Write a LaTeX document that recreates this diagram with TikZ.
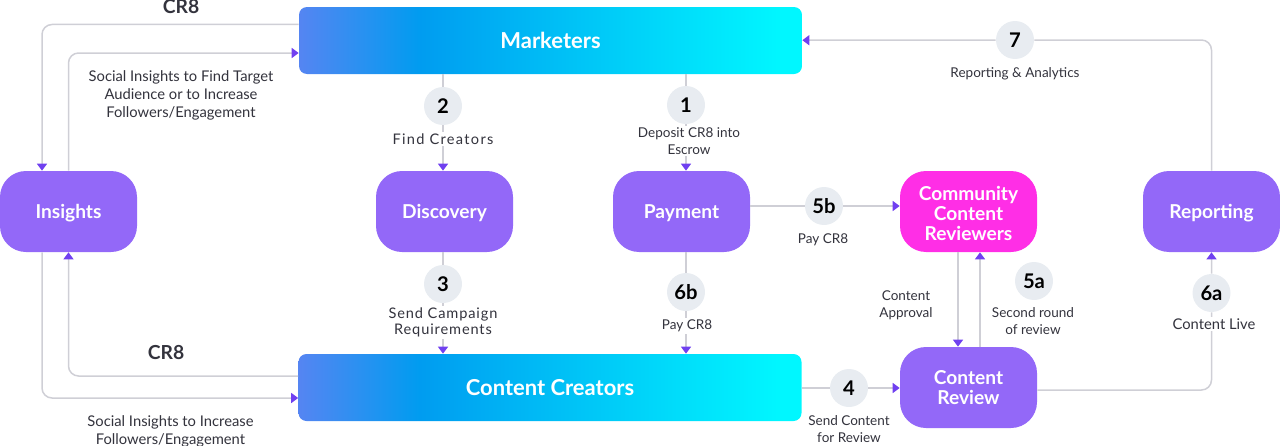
\documentclass[tikz,border=0pt]{standalone}
\usepackage{xcolor}
\usepackage{fontspec}
\setmainfont{Lato}
\newfontfamily\spacedfont[LetterSpace=6]{Lato}
\usepackage{tikz}
\usetikzlibrary{arrows.meta,positioning}

\definecolor{stagepurple}{HTML}{9368F8}
\definecolor{reviewpink}{HTML}{FF2EE6}
\definecolor{badgegray}{HTML}{E8ECF1}
\definecolor{linegray}{HTML}{CFCFD6}
\definecolor{tippurple}{HTML}{7040F0}
\definecolor{textdark}{HTML}{33333D}
\definecolor{gradblue}{HTML}{5585F2}
\definecolor{gradmid}{HTML}{009CF0}
\definecolor{gradcyan}{HTML}{00F7FF}
\pgfdeclarehorizontalshading{bandshade}{100bp}{color(0bp)=(gradblue); color(25bp)=(gradblue); color(37bp)=(gradmid); color(73bp)=(gradcyan); color(100bp)=(gradcyan)}

\begin{document}
\begin{tikzpicture}[node distance=2cm, auto]
    % Define styles
    \tikzstyle{stage} = [rectangle, rounded corners=0.52cm, minimum width=2.74cm, minimum height=1.62cm, align=center, text=white, fill=stagepurple, font=\fontsize{10.9}{11.2}\selectfont\bfseries]
    \tikzstyle{oneline} = [stage, text height=10.2pt, text depth=2pt]
    \tikzstyle{band} = [rectangle, rounded corners=0.16cm, minimum width=10.06cm, minimum height=1.34cm, text=white, shading=bandshade, font=\fontsize{12.5}{13}\selectfont\bfseries]
    \tikzstyle{badge} = [circle, minimum size=0.76cm, inner sep=0pt, fill=badgegray, text=black, font=\fontsize{11.5}{12}\selectfont\bfseries]
    \tikzstyle{note} = [align=center, fill=white, inner sep=1pt, text=textdark, font=\fontsize{7.7}{9.5}\selectfont]
    \tikzstyle{notewide} = [note, font=\fontsize{8.4}{10.2}\selectfont]
    \tikzstyle{notespaced} = [note, font=\fontsize{8.3}{9.5}\selectfont\spacedfont]
    \tikzstyle{tag} = [text=textdark, inner sep=0pt, font=\fontsize{11}{12}\selectfont\bfseries]
    \tikzstyle{flow} = [draw=linegray, line width=0.03cm, rounded corners=0.2cm]
    \tikzstyle{flowto} = [flow, -{Triangle[length=0.14cm, width=0.2cm, color=tippurple]}]

    \useasboundingbox (0,0) rectangle (25.6,-8.92);

    % Nodes
    \node[band] (marketers) at (11.01,-0.81) {Marketers};
    \node[band] (creators) at (11.00,-7.75) {Content Creators};
    \node[oneline] (insights) at (1.37,-4.23) {Insights};
    \node[oneline, right of=insights, xshift=5.52cm] (discovery) {Discovery};
    \node[oneline, right of=discovery, xshift=2.74cm] (payment) {Payment};
    \node[stage, right of=payment, xshift=3.74cm, fill=reviewpink] (community) {\rule{0pt}{10.5pt}Community\\Content\\Reviewers};
    \node[oneline, right of=community, xshift=2.86cm] (reporting) {Reporting};
    \node[stage, below of=community, yshift=-1.52cm] (review) {Content\\Review};

    \node[badge] (b1) at (13.72,-2.10) {1};
    \node[badge] (b2) at (8.86,-2.12) {2};
    \node[badge] (b3) at (8.86,-5.68) {3};
    \node[badge] (b4) at (16.98,-7.76) {4};
    \node[badge] (b5a) at (20.68,-5.62) {5a};
    \node[badge] (b5b) at (16.48,-4.12) {5b};
    \node[badge] (b6a) at (24.23,-5.86) {6a};
    \node[badge] (b6b) at (13.72,-5.84) {6b};
    \node[badge] (b7) at (20.30,-0.80) {7};

    % Connections
    \draw[flowto] ([yshift=0.32cm]marketers.west) -| ([xshift=-0.53cm]insights.north);
    \draw[flowto] (insights.north) |- ([yshift=-0.25cm]marketers.west);
    \draw[flowto] ([yshift=0.23cm]creators.west) -| (insights.south);
    \draw[flowto] ([xshift=-0.53cm]insights.south) |- ([yshift=-0.21cm]creators.west);
    \draw[flow] (marketers.south -| b2) -- (b2);
    \draw[flowto] (b2) -- (discovery.north -| b2);
    \draw[flow] (discovery.south -| b3) -- (b3);
    \draw[flowto] (b3) -- (creators.north -| b3);
    \draw[flow] (marketers.south -| b1) -- (b1);
    \draw[flowto] (b1) -- (payment.north -| b1);
    \draw[flow] (payment.south -| b6b) -- (b6b);
    \draw[flowto] (b6b) -- (creators.north -| b6b);
    \draw[flow] (payment.east |- b5b) -- (b5b);
    \draw[flowto] (b5b) -- (community.west |- b5b);
    \draw[flow] (creators.east |- b4) -- (b4);
    \draw[flowto] (b4) -- (review.west |- b4);
    \draw[flowto] ([xshift=-0.21cm]community.south) -- ([xshift=-0.21cm]review.north);
    \draw[flowto] ([xshift=0.23cm]review.north) -- ([xshift=0.23cm]community.south);
    \draw[flow] ([yshift=-0.05cm]review.east) -| (b6a);
    \draw[flowto] (b6a) -- (reporting.south);
    \draw[flow] (reporting.north) |- (b7);
    \draw[flowto] (b7) -- (marketers);

    % Labels
    \node[tag] (tagtop) at (3.62,-0.13) {CR8};
    \node[tag] (tagbottom) at (3.32,-7.06) {CR8};
    \node[notewide] (n_social) at (3.62,-1.90) {Social Insights to Find Target\\Audience or to Increase\\Followers/Engagement};
    \node[notewide] (n_socialb) at (3.41,-8.62) {Social Insights to Increase\\Followers/Engagement};
    \node[notespaced, font=\fontsize{8.3}{9.5}\selectfont\spacedfont\addfontfeatures{LetterSpace=9}] (n_find) at (8.86,-2.78) {Find Creators};
    \node[notespaced] (n_send) at (8.86,-6.45) {Send Campaign\\Requirements};
    \node[note] (n_deposit) at (13.78,-2.82) {Deposit CR8 into\\Escrow};
    \node[note] (n_payb) at (13.74,-6.52) {Pay CR8};
    \node[note] (n_paya) at (16.46,-4.80) {Pay CR8};
    \node[note] (n_content) at (16.98,-8.58) {Send Content\\for Review};
    \node[note] (n_approval) at (18.12,-6.11) {Content\\Approval};
    \node[note] (n_second) at (20.66,-6.42) {Second round\\of review};
    \node[notewide] (n_live) at (24.28,-6.48) {Content Live};
    \node[note] (n_reporting) at (20.30,-1.48) {Reporting \& Analytics};
\end{tikzpicture}
\end{document}
